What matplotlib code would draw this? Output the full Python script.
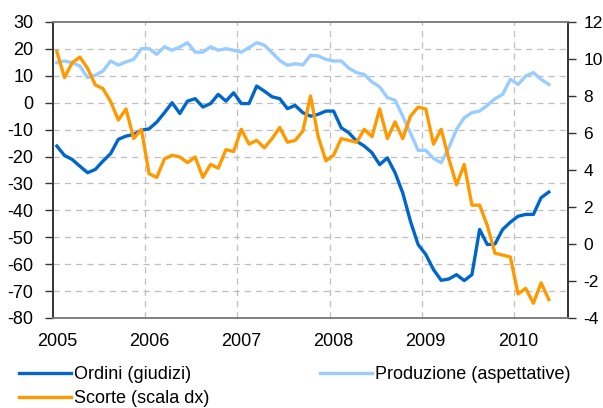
"""
Ordini, produzione e scorte: inchieste congiunturali (2005-2010)
"""

import matplotlib
matplotlib.use('Agg')
import matplotlib.pyplot as plt
import numpy as np

matplotlib.rcParams['font.family'] = ['Liberation Sans', 'DejaVu Sans']
matplotlib.rcParams['font.size'] = 13
matplotlib.rcParams['axes.unicode_minus'] = False

# monthly data, Jan 2005 - May 2010
years = ['2005', '2006', '2007', '2008', '2009', '2010']

ordini = [-16.1, -19.6, -21.1, -23.6, -26.0, -24.8, -21.7, -18.9, -13.6, -12.4,
          -11.8, -10.2, -9.7, -7.2, -3.7, 0.0, -4.0, 0.6, 1.5, -1.6,
          -0.3, 3.1, 0.6, 3.7, -0.3, -0.3, 6.2, 4.3, 2.2, 1.5,
          -2.2, -1.0, -3.7, -5.0, -4.3, -3.1, -3.1, -9.3, -11.2, -14.3,
          -16.1, -18.6, -23.0, -20.5, -26.0, -33.5, -44.0, -52.7, -56.4, -62.0,
          -66.0, -65.5, -63.9, -66.1, -63.9, -47.1, -52.7, -52.5, -47.1, -44.4,
          -42.2, -41.5, -41.5, -35.3, -33.2]

produzione = [14.9, 15.5, 14.9, 13.6, 9.3, 10.2, 11.8, 15.5, 14.0, 15.2,
              16.1, 20.1, 20.1, 18.0, 20.8, 19.5, 20.7, 22.3, 18.8, 18.8,
              20.8, 19.5, 20.1, 19.5, 18.8, 20.5, 22.3, 21.4, 18.6, 15.7,
              13.9, 14.5, 14.0, 17.6, 17.4, 16.1, 15.5, 15.5, 12.8, 11.2,
              10.5, 7.7, 5.9, 1.9, 0.9, -5.0, -11.2, -17.7, -17.7, -20.7,
              -22.3, -16.7, -9.9, -5.6, -3.7, -3.1, -1.0, 1.5, 3.1, 8.7,
              6.8, 9.9, 11.2, 8.7, 6.8]

scorte = [10.4, 9.0, 9.8, 10.1, 9.5, 8.6, 8.4, 7.7, 6.7, 7.3,
          5.7, 6.2, 3.8, 3.6, 4.6, 4.8, 4.7, 4.4, 4.7, 3.6,
          4.3, 4.1, 5.1, 5.0, 6.2, 5.4, 5.6, 5.2, 5.7, 6.3,
          5.5, 5.6, 6.1, 8.0, 5.8, 4.5, 4.8, 5.7, 5.6, 5.5,
          6.2, 5.8, 7.3, 5.7, 6.6, 5.7, 6.9, 7.4, 7.3, 5.4,
          6.2, 4.6, 3.2, 4.3, 2.1, 2.1, 1.0, -0.5, -0.6, -0.7,
          -2.7, -2.4, -3.2, -2.1, -3.0]

n_cat = 67  # category axis runs through Jul 2010

fig = plt.figure(figsize=(6.03, 4.08), dpi=100)
ax = fig.add_axes([53 / 603, 1 - 318 / 408, 515 / 603, 296 / 408])
ax2 = ax.twinx()

x = np.arange(len(ordini))
l1, = ax.plot(x, ordini, color='#0066CC', lw=2.4, solid_joinstyle='round', zorder=4)
l2, = ax.plot(x, produzione, color='#99CCFF', lw=2.4, solid_joinstyle='round', zorder=3)
l3, = ax2.plot(x, scorte, color='#FF9900', lw=2.4, solid_joinstyle='round', zorder=4)

ax.set_xlim(-0.5, n_cat - 0.5)
ax.set_ylim(-80, 30)
ax2.set_ylim(-4, 12)
ax.set_yticks(np.arange(-80, 31, 10))
ax2.set_yticks(np.arange(-4, 13, 2))

ax.set_xticks(np.arange(0, 61, 12))
ax.set_xticklabels(years)
ax.tick_params(axis='x', length=0, pad=11)
ax.tick_params(axis='y', direction='out', length=6, width=1, color='#333333', pad=8)
ax2.tick_params(axis='y', direction='out', length=6, width=1, color='#333333', pad=5,
                labelsize=12.5)

# grid: horizontal at left ticks, vertical at year boundaries
for v in np.arange(-70, 30, 10):
    ax.axhline(v, color='#BFBFBF', lw=0.9, ls=(0, (5, 4)), zorder=1)
for b in np.arange(11.5, n_cat, 12):
    ax.axvline(b, color='#BFBFBF', lw=0.9, ls=(0, (5, 4)), zorder=1)

for a in (ax, ax2):
    a.spines['top'].set_color('#808080')
    a.spines['bottom'].set_color('#808080')
    a.spines['left'].set_color('#333333')
    a.spines['right'].set_color('#333333')
    for s in a.spines.values():
        s.set_linewidth(1.2)

# row-major order: Ordini | Produzione, then Scorte
fig.legend([l1, l3, l2], ['Ordini (giudizi)', 'Scorte (scala dx)', 'Produzione (aspettative)'],
           loc='upper left', bbox_to_anchor=(19 / 603, 1 - 366 / 408), ncol=2,
           frameon=False, handlelength=2.9, handletextpad=0.15, columnspacing=6.1,
           labelspacing=0.4, borderaxespad=0, borderpad=0, fontsize=13)

plt.savefig('out.png', dpi=100)
